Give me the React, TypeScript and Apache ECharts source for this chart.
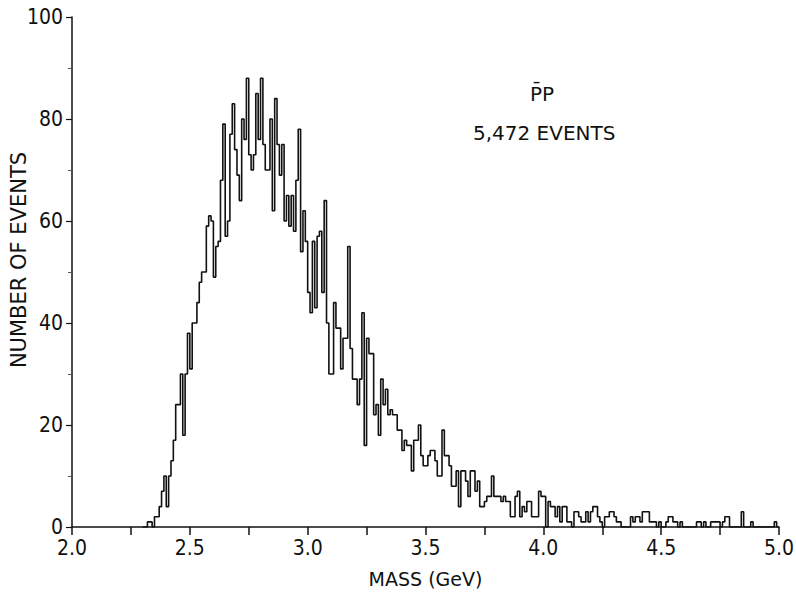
import React, { useEffect, useRef } from "react";
import * as echarts from "echarts";

// Histogram: bins of 0.01 GeV starting at 2.30 GeV
const BIN_START = 2.3;
const BIN_WIDTH = 0.01;
const counts: number[] = [
  0, 0, 1, 1, 0, 2, 2, 4, 7, 10,
  4, 10, 13, 17, 24, 24, 30, 18, 30, 38,
  31, 40, 40, 44, 48, 50, 50, 59, 61, 60,
  49, 55, 56, 68, 79, 57, 60, 77, 83, 74,
  69, 64, 80, 76, 88, 73, 70, 73, 85, 76,
  88, 75, 70, 70, 80, 62, 84, 75, 69, 75,
  60, 65, 59, 65, 58, 68, 78, 54, 62, 56,
  46, 42, 56, 43, 57, 58, 46, 64, 40, 30,
  30, 44, 39, 39, 31, 37, 37, 55, 35, 29,
  29, 24, 29, 42, 16, 37, 34, 34, 22, 24,
  18, 29, 24, 27, 22, 23, 22, 22, 19, 19,
  15, 17, 16, 16, 11, 17, 17, 20, 14, 12,
  12, 14, 15, 15, 13, 10, 10, 19, 14, 14,
  12, 8, 8, 11, 4, 11, 11, 9, 6, 11,
  11, 7, 9, 4, 4, 5, 6, 6, 10, 6,
  6, 6, 5, 6, 5, 5, 2, 2, 6, 7,
  2, 4, 3, 5, 5, 2, 2, 2, 7, 6,
  6, 0, 5, 4, 4, 2, 4, 1, 4, 4,
  1, 1, 0, 3, 3, 2, 1, 1, 3, 1,
  3, 4, 4, 2, 1, 0, 2, 2, 3, 3,
  2, 1, 1, 0, 0, 0, 0, 2, 1, 2,
  2, 1, 3, 3, 3, 1, 1, 1, 0, 1,
  0, 0, 1, 2, 2, 1, 1, 0, 1, 0,
  0, 0, 0, 0, 0, 1, 1, 0, 1, 0,
  0, 1, 1, 1, 1, 0, 1, 2, 2, 0,
  0, 0, 0, 0, 3, 0, 0, 0, 1, 0,
  0, 0, 0, 0, 0, 0, 0, 0, 1, 0,
];

const X_MIN = 2.0;
const X_MAX = 5.0;
const X_INTERVAL = 0.5;
const Y_MIN = 0;
const Y_MAX = 100;
const Y_INTERVAL = 20;

const TITLE_LINE1 = "P\u0304P";
const TITLE_LINE2 = "5,472 EVENTS";
const X_NAME = "MASS (GeV)";
const Y_NAME = "NUMBER OF EVENTS";

const FONT_C = "'DejaVu Sans Condensed', 'Liberation Sans Narrow', 'DejaVu Sans', sans-serif";
const FONT = "'DejaVu Sans', sans-serif";

export default function App() {
  const ref = useRef<HTMLDivElement>(null);
  useEffect(() => {
    document.body.style.margin = "0";
    if (!ref.current) return;
    const chart = echarts.init(ref.current, null, { renderer: "svg" });

    const stepData: [number, number][] = counts.map((c, i) => [
      +(BIN_START + i * BIN_WIDTH).toFixed(4),
      c,
    ]);
    stepData.push([
      +(BIN_START + counts.length * BIN_WIDTH).toFixed(4),
      counts[counts.length - 1],
    ]);

    chart.setOption({
      animation: false,
      backgroundColor: "#ffffff",
      grid: {
        left: 72,
        right: 17,
        top: 17,
        bottom: 72,
        containLabel: false,
        outerBoundsMode: "none",
      },
      xAxis: {
        type: "value",
        min: X_MIN,
        max: X_MAX,
        interval: X_INTERVAL,
        name: X_NAME,
        nameLocation: "middle",
        nameGap: 42,
        nameTextStyle: { color: "#111", fontSize: 19, fontFamily: FONT },
        axisLine: { show: true, onZero: false, lineStyle: { color: "#111", width: 1.5 } },
        axisTick: { show: true, length: 8, lineStyle: { color: "#111", width: 1.5 } },
        minorTick: { show: true, splitNumber: 2, length: 8, lineStyle: { color: "#111", width: 1.5 } },
        splitLine: { show: false },
        minorSplitLine: { show: false },
        axisLabel: {
          color: "#111",
          fontSize: 21,
          fontFamily: FONT_C,
          margin: 10,
          formatter: (v: number) => v.toFixed(1),
        },
      },
      yAxis: {
        type: "value",
        min: Y_MIN,
        max: Y_MAX,
        interval: Y_INTERVAL,
        axisLine: { show: true, lineStyle: { color: "#111", width: 1.5 } },
        axisTick: { show: true, length: 6, lineStyle: { color: "#111", width: 1.2 } },
        minorTick: { show: true, splitNumber: 2, length: 4, lineStyle: { color: "#555", width: 1 } },
        splitLine: { show: false },
        minorSplitLine: { show: false },
        axisLabel: { color: "#111", fontSize: 21, fontFamily: FONT_C, margin: 9 },
      },
      graphic: [
        {
          type: "text",
          x: 19,
          y: 260,
          rotation: Math.PI / 2,
          style: {
            text: Y_NAME,
            fill: "#111",
            font: `21px ${FONT}`,
            align: "center",
            verticalAlign: "middle",
          },
        },
        {
          type: "text",
          left: 530,
          top: 84,
          style: { text: TITLE_LINE1, fill: "#111", font: `20px ${FONT}` },
        },
        {
          type: "text",
          left: 473,
          top: 123,
          style: { text: TITLE_LINE2, fill: "#111", font: `20px ${FONT}` },
        },
      ],
      series: [
        {
          type: "line",
          step: "end",
          data: stepData,
          symbol: "none",
          lineStyle: { color: "#111", width: 1.6 },
          z: 3,
        },
      ],
    });
    return () => chart.dispose();
  }, []);
  return <div ref={ref} style={{ width: 796, height: 599 }} />;
}
